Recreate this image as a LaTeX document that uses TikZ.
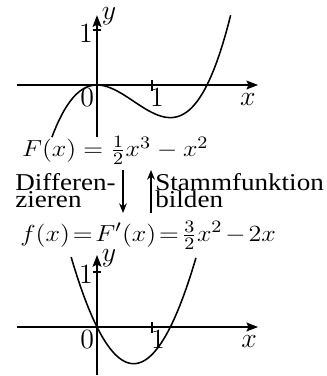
\documentclass[tikz,border=0pt]{standalone}
\usepackage{fontspec}
\setmainfont{Liberation Serif}
\usepackage{graphicx}
\usetikzlibrary{arrows.meta}
\newcommand{\wide}[1]{\scalebox{1.12}[1]{#1}}
\newcommand{\widemath}[1]{\scalebox{1.12}[1]{#1}}

\begin{document}
\begin{tikzpicture}[
  axis/.style={line width=1.1pt, -{Stealth[length=6pt, width=4.5pt, inset=1pt]}},
  tick/.style={line width=1.1pt},
  curve/.style={line width=0.8pt},
  lbl/.style={inner sep=0pt, font=\fontsize{14}{16}\selectfont},
  formula/.style={inner sep=0pt, anchor=base west, font=\fontsize{12.5}{14}\selectfont},
  note/.style={inner sep=0pt, anchor=base west, align=left, font=\fontsize{12.5}{8.8}\selectfont},
  arrow/.style={-{Stealth[length=5pt, width=4pt]}, line width=0.8pt}
]
\useasboundingbox (-1.7636,-5.2909) rectangle (4.1818,1.5455);

% Upper graph: F
\draw[axis] (-1.455,0) -- (2.93,0);
\draw[axis] (0,-0.95) -- (0,1.27);
\draw[tick] (1,-0.1) -- (1,0.1);
\draw[tick] (-0.08,1) -- (0.08,1);
\draw[curve] plot[domain=-0.82:2.43, samples=90] (\x, {0.5*(\x)*(\x)*(\x)-(\x)*(\x)});
\node[lbl] (Fy) at (0.22,1.245) {$y$};
\node[lbl] (Fone) at (-0.2,0.936) {$1$};
\node[lbl] (Fzero) at (-0.18,-0.227) {$0$};
\node[lbl] (Fxone) at (1.09,-0.236) {$1$};
\node[lbl] (Fx) at (2.745,-0.27) {$x$};

% Formulas and arrows
\node[formula] (Fdef) at (-1.37,-1.3) {\widemath{$F(x) = \frac{1}{2}x^3 - x^2$}};
\node[note] (diff) at (-1.49,-2.23) {\wide{Differen-}\\\wide{zieren}};
\node[note] (stamm) at (1.055,-2.23) {\wide{Stammfunktion}\\\wide{bilden}};
\node[formula] (fdef) at (-1.4,-2.84) {\widemath{\thickmuskip=2mu\medmuskip=2mu$f(x)=F'(x)=\frac{3}{2}x^2-2x$}};
\coordinate (diffA) at (0.473,-1.545);
\coordinate (diffB) at (0.473,-2.327);
\coordinate (stammA) at (0.982,-2.327);
\coordinate (stammB) at (0.982,-1.545);
\draw[arrow] (diffA) -- (diffB);
\draw[arrow] (stammA) -- (stammB);

% Lower graph: f
\begin{scope}[yshift=-4.4cm]
\draw[axis] (-1.455,0) -- (2.93,0);
\draw[axis] (0,-0.87) -- (0,1.31);
\draw[tick] (1,-0.1) -- (1,0.1);
\draw[tick] (-0.08,1) -- (0.08,1);
\draw[curve] plot[domain=-0.47:1.8, samples=90] (\x, {1.5*(\x)*(\x)-2*(\x)});
\node[lbl] (fy) at (0.22,1.25) {$y$};
\node[lbl] (fone) at (-0.2,0.955) {$1$};
\node[lbl] (fzero) at (-0.18,-0.236) {$0$};
\node[lbl] (fxone) at (1.11,-0.22) {$1$};
\node[lbl] (fx) at (2.764,-0.264) {$x$};
\end{scope}

\end{tikzpicture}
\end{document}
